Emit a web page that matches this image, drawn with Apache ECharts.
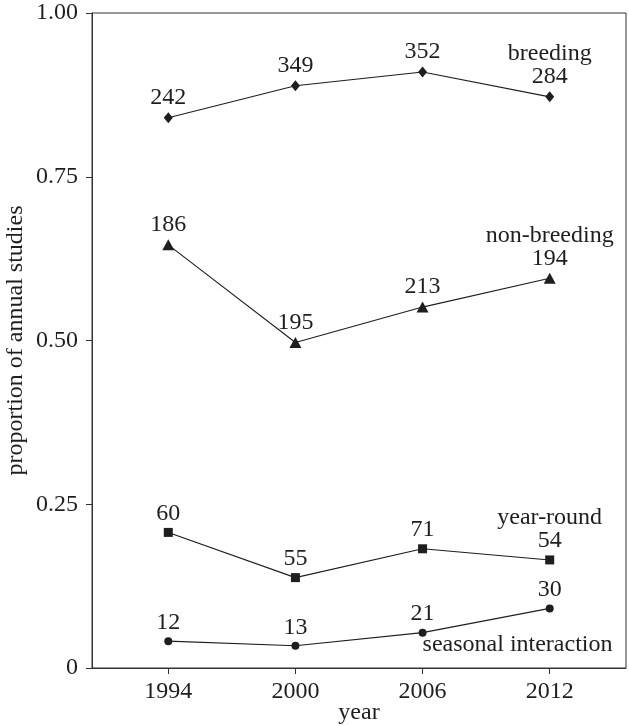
<!DOCTYPE html>
<html>
<head>
<meta charset="utf-8">
<script src="https://cdn.jsdelivr.net/npm/echarts@6/dist/echarts.min.js"></script>
<style>
html,body{margin:0;padding:0;background:#fff;}
#chart{width:629px;height:726px;}
</style>
</head>
<body>
<div id="chart"></div>
<script>
// ---- data ----
const years = [1994, 2000, 2006, 2012];
const breeding = [0.840, 0.889, 0.910, 0.872];
const nonBreeding = [0.646, 0.497, 0.551, 0.595];
const yearRound = [0.207, 0.138, 0.182, 0.165];
const seasonal = [0.041, 0.034, 0.054, 0.091];
const breedingN = [242, 349, 352, 284];
const nonBreedingN = [186, 195, 213, 194];
const yearRoundN = [60, 55, 71, 54];
const seasonalN = [12, 13, 21, 30];
const seriesNames = ['breeding', 'non-breeding', 'year-round', 'seasonal interaction'];

const FONT = "'Liberation Serif', 'DejaVu Serif', serif";
const FS = 24;
const INK = '#1e1e1e';

function mkSeries(name, vals, counts, symbol, size, tagOnLast) {
  return {
    name: name,
    type: 'line',
    data: years.map((y, i) => [y, vals[i]]),
    symbol: symbol,
    symbolSize: size,
    itemStyle: { color: INK },
    lineStyle: { color: INK, width: 1.1 },
    label: {
      show: true,
      position: 'top',
      distance: 3,
      fontFamily: FONT,
      fontSize: FS,
      color: INK,
      lineHeight: 23,
      align: 'center',
      formatter: p => (tagOnLast && p.dataIndex === 3) ? name + '\n' + counts[p.dataIndex] : String(counts[p.dataIndex])
    },
    animation: false,
    z: 3
  };
}

const sSeasonal = mkSeries(seriesNames[3], seasonal, seasonalN, 'circle', 8, false);
sSeasonal.markPoint = {
  symbol: 'circle',
  symbolSize: 0,
  data: [{ coord: [years[2], seasonal[2]] }],
  label: {
    show: true,
    position: [0, 0],
    offset: [0, 0],
    align: 'left',
    verticalAlign: 'top',
    fontFamily: FONT,
    fontSize: FS,
    color: INK,
    formatter: () => seriesNames[3]
  },
  animation: false
};

const option = {
  animation: false,
  backgroundColor: '#fff',
  grid: {
    left: 92, right: 3, top: 13, bottom: 58,
    containLabel: false,
    outerBoundsMode: 'none',
    show: true, borderColor: '#333', borderWidth: 1, backgroundColor: 'transparent'
  },
  xAxis: {
    type: 'value',
    min: 1990.4,
    max: 2015.6,
    name: 'year',
    nameLocation: 'middle',
    nameGap: 33,
    nameMoveOverlap: false,
    nameTextStyle: { fontFamily: FONT, fontSize: FS, color: INK },
    axisLine: { show: true, lineStyle: { color: '#333', width: 1 } },
    axisTick: { show: true, inside: false, length: 6, customValues: years, lineStyle: { color: '#333' } },
    axisLabel: { customValues: years, margin: 12, fontFamily: FONT, fontSize: FS, color: INK, formatter: v => String(v) },
    splitLine: { show: false }
  },
  yAxis: {
    type: 'value',
    min: 0,
    max: 1,
    interval: 0.25,
    name: 'proportion of annual studies',
    nameLocation: 'middle',
    nameGap: 64,
    nameMoveOverlap: false,
    nameTextStyle: { fontFamily: FONT, fontSize: FS, color: INK },
    axisLine: { show: true, lineStyle: { color: '#333', width: 1 } },
    axisTick: { show: true, inside: false, length: 6, lineStyle: { color: '#333' } },
    axisLabel: {
      margin: 14, fontFamily: FONT, fontSize: FS, color: INK,
      formatter: v => v === 0 ? '0' : v.toFixed(2)
    },
    splitLine: { show: false }
  },
  series: [
    mkSeries(seriesNames[0], breeding, breedingN, 'diamond', [9, 11], true),
    mkSeries(seriesNames[1], nonBreeding, nonBreedingN, 'triangle', [12, 11], true),
    mkSeries(seriesNames[2], yearRound, yearRoundN, 'rect', 9, true),
    sSeasonal
  ]
};

const chart = echarts.init(document.getElementById('chart'), null, { renderer: 'canvas' });
chart.setOption(option);
</script>
</body>
</html>
